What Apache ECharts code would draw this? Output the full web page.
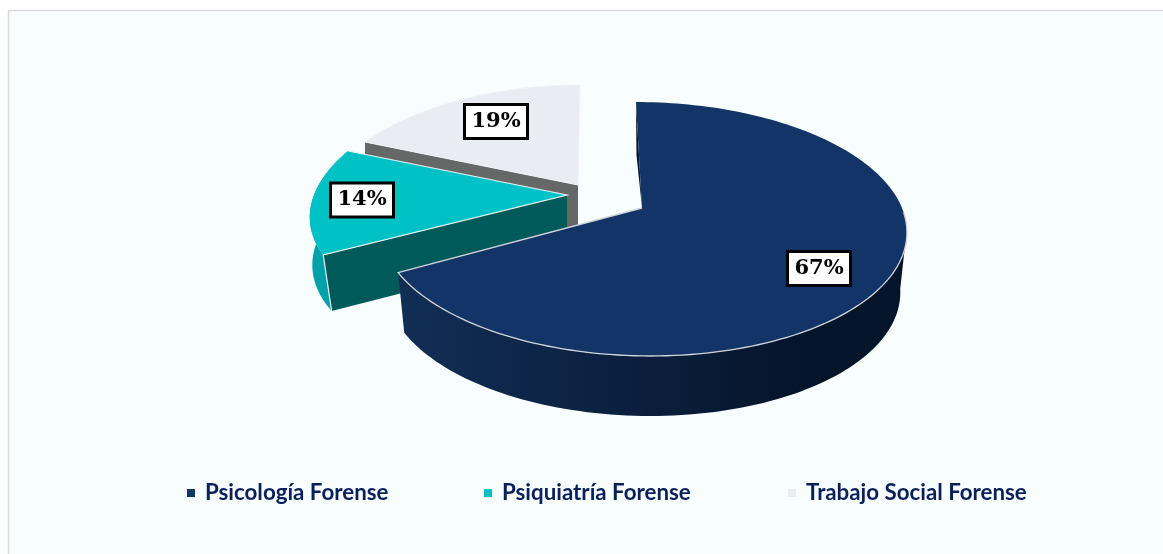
<!DOCTYPE html>
<html><head><meta charset="utf-8">
<style>html,body{margin:0;padding:0;background:#fff}#c{width:1163px;height:554px}</style>
<script src="https://cdn.jsdelivr.net/npm/echarts@6/dist/echarts.min.js"></script>
</head><body><div id="c"></div>
<script>
const categories = ['Psicología Forense', 'Psiquiatría Forense', 'Trabajo Social Forense'];
const values = [67, 14, 19];
const topColors = ['#123466', '#00C1C6', '#E9ECF2'];

// perspective disc shape and per-slice placement (styling only)
const layouts = [
  {ax: 642, ay: 208, rx: 260, ky: 123.5, p: -0.1654, skew: 0.057, bx: 0.975, lowSkew: 0.056, d: 60, lx: 177, ly: 60.5},
  {ax: 567, ay: 195, rx: 253, ky: 121.7, p: -0.048,  skew: -0.28, bx: 1.00,  lowSkew: -0.14, d: 56, lx: -205, ly: 5},
  {ax: 578, ay: 185, rx: 255, ky: 129.5, p: -0.295,  skew: -0.02, bx: 1.00,  lowSkew: -0.02, d: 58, lx: -82, ly: -63.5}
];
const total = values.reduce((a, b) => a + b, 0);
const starts = []; values.reduce((acc, v, i) => { starts[i] = acc; return acc + v; }, 0);

function proj(L, deg, r, lower) {
  const t = deg * Math.PI / 180, x = r * Math.sin(t), y = -r * Math.cos(t);
  const w = 1 + L.p * y, py = L.ky * y / w;
  const px = L.rx * x / w * (lower ? L.bx : 1) + (lower ? L.lowSkew : L.skew) * py;
  return [L.ax + px, L.ay + py + (lower ? L.d : 0)];
}
function rim(L, a, b, lower) {
  const n = Math.max(2, Math.ceil(Math.abs(b - a) / 1.5)), out = [];
  for (let i = 0; i <= n; i++) out.push(proj(L, a + (b - a) * i / n, 1, lower));
  return out;
}
const poly = (points, style, z2) => ({type: 'polygon', shape: {points}, style, z2: z2 || 0, silent: true});
const line = (points, stroke, lineWidth, z2) => ({type: 'polyline', shape: {points}, style: {fill: null, stroke, lineWidth}, z2: z2 || 0, silent: true});

function labelEls(L, v) {
  const cx = L.ax + L.lx, cy = L.ay + L.ly;
  return [
    {type: 'rect', shape: {x: cx - 31.5, y: cy - 17, width: 63, height: 34}, style: {fill: '#fff', stroke: '#000', lineWidth: 3}, z2: 50, silent: true},
    {type: 'text', x: cx, y: cy, style: {text: v + '%', fill: '#000', font: 'bold 21px "DejaVu Serif"', align: 'center', verticalAlign: 'middle'}, z2: 51, silent: true}
  ];
}

function makeRender(i) {
  return function (params, api) {
    const v = api.value(0), L = layouts[i];
    const a0 = starts[i] / total * 360, a1 = a0 + v / total * 360;
    const apex = [L.ax, L.ay], apexLow = [L.ax, L.ay + L.d];
    const top = [apex].concat(rim(L, a0, a1, false));
    const kids = [];
    if (i === 0) {
      const wallTop = rim(L, 99.5, a1, false), wallLow = rim(L, 99.5, a1, true).reverse();
      kids.push(poly(wallTop.concat(wallLow), {fill: new echarts.graphic.LinearGradient(0, 0, 1, 0, [
        {offset: 0, color: '#112E55'}, {offset: 0.5, color: '#0A1E3C'}, {offset: 0.8, color: '#051529'}, {offset: 1, color: '#04142A'}])}));
      const o = proj(L, a0, 1);
      kids.push(poly([o, [(o[0] + L.ax) / 2 - 2.5, (o[1] + L.ay) / 2], apex], {fill: '#06172F'}));
      kids.push(poly(top, {fill: topColors[i]}, 2));
      kids.push(line([apex].concat(rim(L, a1, 92, false)), '#CFD3DA', 1.3, 3));
    } else if (i === 1) {
      const wallTop = rim(L, a0, a1, false), wallLow = rim(L, a0, a1, true).reverse();
      kids.push(poly(wallTop.concat(wallLow), {fill: '#00A1A8'}));
      const c = proj(L, a0, 1), cl = proj(L, a0, 1, true);
      kids.push(poly([apex, c, cl, apexLow], {fill: '#005A5A'}, 1));
      kids.push(poly(top, {fill: topColors[i]}, 2));
      kids.push(line([proj(L, a1, 1), apex, c, cl], '#E8F4F4', 1.2, 3));
    } else {
      const c = proj(L, a0, 1), cl = [c[0], c[1] + L.d];
      kids.push(poly([apex, c, cl, apexLow], {fill: '#666867'}));
      kids.push(poly(top, {fill: topColors[i], stroke: '#F1F3F6', lineWidth: 1}, 2));
    }
    return {type: 'group', children: kids.concat(labelEls(L, v))};
  };
}

const chart = echarts.init(document.getElementById('c'), null, {renderer: 'canvas'});
const legendLeft = [182, 479, 783];
chart.setOption({
  animation: false,
  backgroundColor: '#ffffff',
  graphic: [{type: 'rect', z: -10, shape: {x: 8.5, y: 10.5, width: 1170, height: 560},
    style: {fill: '#F8FEFE', stroke: '#D9D9D9', lineWidth: 1.5}, silent: true}],
  legend: categories.map((name, i) => ({
    data: [name], left: legendLeft[i], top: 477, orient: 'horizontal', selectedMode: false,
    icon: 'rect', itemWidth: 8, itemHeight: 8,
    itemStyle: {color: topColors[i], borderWidth: 0, shadowColor: '#ffffff', shadowBlur: 6},
    textStyle: {color: '#0A1F5C', fontFamily: 'Lato', fontWeight: 'bold', fontSize: 22.3, padding: [0, 0, 0, 5]}
  })),
  series: categories.map((name, i) => ({
    type: 'custom', name, coordinateSystem: 'none', z: 10 - i * 2, clip: false,
    itemStyle: {color: topColors[i]},
    renderItem: makeRender(i), data: [[values[i]]]
  }))
});
</script></body></html>
